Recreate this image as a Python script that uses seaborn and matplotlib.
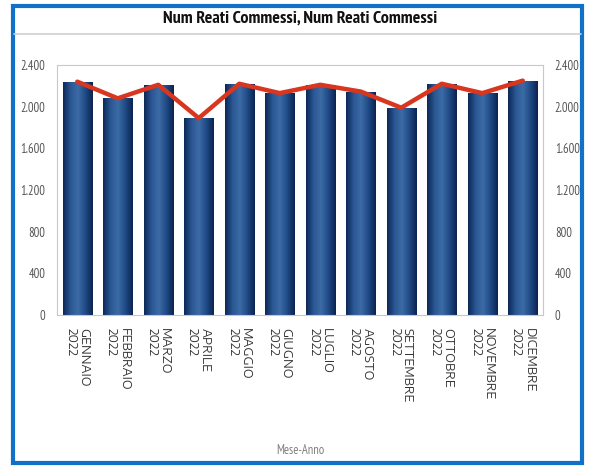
import numpy as np
import pandas as pd
import matplotlib
matplotlib.use("Agg")
import matplotlib.pyplot as plt
import seaborn as sns
from matplotlib.patches import Rectangle
from matplotlib.colors import LinearSegmentedColormap
from matplotlib.ticker import FuncFormatter

months = ["GENNAIO", "FEBBRAIO", "MARZO", "APRILE", "MAGGIO", "GIUGNO",
          "LUGLIO", "AGOSTO", "SETTEMBRE", "OTTOBRE", "NOVEMBRE", "DICEMBRE"]
year = "2022"
reati_bar = [2240, 2080, 2210, 1890, 2220, 2130, 2210, 2145, 1990, 2220, 2130, 2250]
reati_line = [2240, 2080, 2210, 1890, 2220, 2130, 2210, 2145, 1990, 2220, 2130, 2250]
yticks = [0, 400, 800, 1200, 1600, 2000, 2400]
title = "Num Reati Commessi, Num Reati Commessi"
xlabel = "Mese-Anno"

labels = [f"{m}\n{year}" for m in months]
df = pd.DataFrame({"label": labels, "bar": reati_bar, "line": reati_line,
                   "pos": np.arange(len(labels))})

sns.set_style("white")
plt.rcParams["font.family"] = ["PT Sans Narrow", "DejaVu Sans"]

fig = plt.figure(figsize=(5.89, 4.68), dpi=100)
W, H = 589, 468
ax = fig.add_axes([57 / W, 1 - 315 / H, (543 - 57) / W, (315 - 65) / H])

sns.barplot(data=df, x="label", y="bar", color="#1f4a85", width=0.72,
            ax=ax, saturation=1, zorder=2)

# cylindrical gradient on bars
cmap = LinearSegmentedColormap.from_list(
    "cyl", ["#0d2858", "#2a5793", "#3c6ba6", "#1f4b86", "#0b2350"])
grad = np.linspace(0, 1, 64).reshape(1, -1)
for p in list(ax.patches):
    x0, y0 = p.get_x(), p.get_y()
    w, h = p.get_width(), p.get_height()
    im = ax.imshow(grad, cmap=cmap, aspect="auto",
                   extent=(x0, x0 + w, y0, y0 + h), zorder=2.5,
                   interpolation="bicubic")
    im.set_clip_path(p)

sns.lineplot(data=df, x="pos", y="line", color="#d8361f", linewidth=3.2,
             ax=ax, zorder=4, sort=False)

ax.set_xlim(-0.5, len(labels) - 0.5)
ax.set_ylim(0, 2400)
ax.set_yticks(yticks)
fmt = FuncFormatter(lambda v, _: f"{int(v):,}".replace(",", "."))
ax.yaxis.set_major_formatter(fmt)
ax.tick_params(axis="y", labelright=True, left=False, right=False,
               labelsize=9, labelcolor="#555555", pad=5)
ax.set_xticks(np.arange(len(labels)))
ax.set_xticklabels(labels, rotation=270, ha="center", va="top",
                   multialignment="left", color="#333333", linespacing=0.95)
ax.tick_params(axis="x", bottom=False, pad=6)
for lbl in ax.get_xticklabels():
    lbl.set_fontfamily(["Encode Sans Expanded", "DejaVu Sans"])
    lbl.set_fontsize(8.5)
ax.set_xlabel("")
ax.set_ylabel("")
for s in ax.spines.values():
    s.set_color("#c8c8c8")
    s.set_linewidth(0.8)
ax.set_facecolor("white")

fig.text(300 / W, 1 - 19 / H, title, ha="center", va="center",
         fontsize=13, fontweight="bold", color="#111111")
fig.text(300 / W, 1 - 451 / H, xlabel, ha="center", va="center",
         fontsize=9, color="#808080")

# title separator
fig.add_artist(plt.Line2D([14 / W, 581 / W], [1 - 34 / H, 1 - 34 / H],
                          color="#d0d0d0", linewidth=1.2))
# outer blue frame
fig.add_artist(Rectangle((13 / W, 1 - 463 / H), (582 - 13) / W, (463 - 6) / H,
                         fill=False, edgecolor="#1170c8", linewidth=3.0,
                         transform=fig.transFigure))

fig.savefig("out.png", dpi=100)
